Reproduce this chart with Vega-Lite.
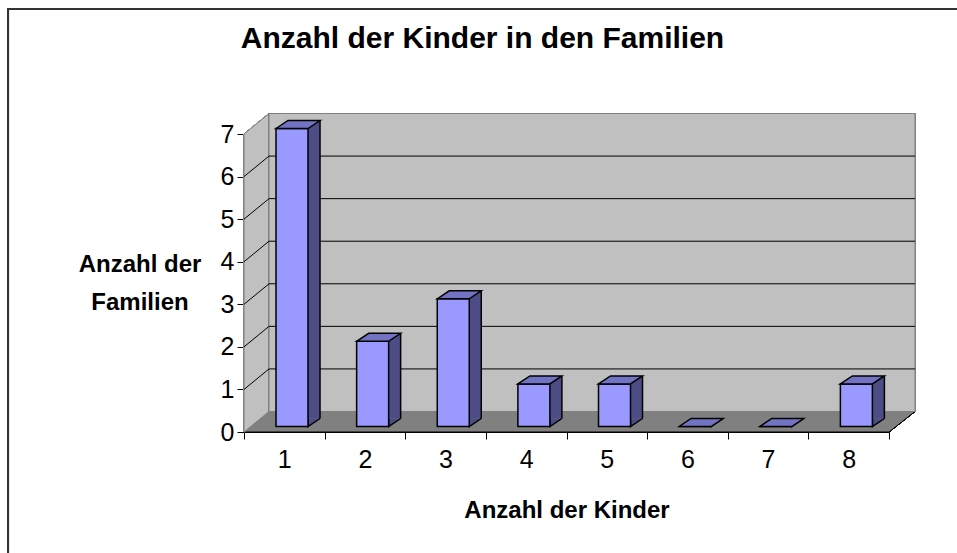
{
  "$schema": "https://vega.github.io/schema/vega-lite/v6.json",
  "autosize": "none",
  "width": 645,
  "height": 298,
  "padding": {"left": 244, "top": 134, "right": 68, "bottom": 121},
  "background": "white",
  "title": {
    "text": "Anzahl der Kinder in den Familien",
    "font": "Liberation Sans",
    "fontSize": 30,
    "fontWeight": "bold",
    "color": "black",
    "anchor": "middle",
    "dx": -84,
    "offset": -49.3
  },
  "config": {
    "view": {"stroke": null},
    "axis": {
      "labelFont": "Liberation Sans",
      "labelFontSize": 25,
      "labelColor": "black",
      "titleFont": "Liberation Sans",
      "titleFontSize": 24,
      "titleFontWeight": "bold",
      "titleColor": "black",
      "domainColor": "black",
      "tickColor": "black",
      "tickSize": 7,
      "domainWidth": 1,
      "tickWidth": 1,
      "grid": false
    }
  },
  "datasets": {
    "kinder": [
      {"kinder": "1", "familien": 7},
      {"kinder": "2", "familien": 2},
      {"kinder": "3", "familien": 3},
      {"kinder": "4", "familien": 1},
      {"kinder": "5", "familien": 1},
      {"kinder": "6", "familien": 0},
      {"kinder": "7", "familien": 0},
      {"kinder": "8", "familien": 1}
    ],
    "gitter": [
      {"v": 1}, {"v": 2}, {"v": 3}, {"v": 4}, {"v": 5}, {"v": 6}
    ]
  },
  "data": {"name": "kinder"},
  "layer": [
    {
      "mark": {"type": "point", "shape": "M-276.3,600L-276.3,-125L800,-125", "size": 4, "filled": false, "opacity": 1, "stroke": "#333333", "strokeWidth": 2},
      "encoding": {
        "x": {"datum": "1", "type": "ordinal"},
        "y": {"datum": 7, "type": "quantitative"}
      }
    },
    {
      "mark": {"type": "point", "shape": "M25,-20.5L0,0L645,0L671,-20.5", "size": 4, "filled": true, "opacity": 1, "fill": "#808080", "stroke": "black", "strokeWidth": 1, "xOffset": -40.3},
      "encoding": {
        "x": {"datum": "1", "type": "ordinal"},
        "y": {"datum": 0, "type": "quantitative"}
      }
    },
    {
      "mark": {"type": "point", "shape": "M0,0L0,-298L25,-318.5L25,-20.5Z", "size": 4, "filled": true, "opacity": 1, "fill": "#c0c0c0", "stroke": "#808080", "strokeWidth": 1, "xOffset": -40.3},
      "encoding": {
        "x": {"datum": "1", "type": "ordinal"},
        "y": {"datum": 0, "type": "quantitative"}
      }
    },
    {
      "mark": {"type": "point", "shape": "M25,-20.5L671,-20.5L671,-318.5L25,-318.5Z", "size": 4, "filled": true, "opacity": 1, "fill": "#c0c0c0", "stroke": "#808080", "strokeWidth": 1, "xOffset": -40.3},
      "encoding": {
        "x": {"datum": "1", "type": "ordinal"},
        "y": {"datum": 0, "type": "quantitative"}
      }
    },
    {
      "data": {"name": "gitter"},
      "mark": {"type": "point", "shape": "M0,0L25,-20.5L671,-20.5", "size": 4, "filled": false, "opacity": 1, "stroke": "black", "strokeWidth": 1, "xOffset": -40.3},
      "encoding": {
        "x": {"datum": "1", "type": "ordinal"},
        "y": {"field": "v", "type": "quantitative"}
      }
    },
    {
      "mark": {"type": "bar", "width": 12, "xOffset": 29.7, "yOffset": -13.5, "y2Offset": -13.5, "fill": "#4d4d85"},
      "encoding": {
        "x": {"field": "kinder", "type": "ordinal"},
        "y": {"field": "familien", "type": "quantitative"}
      }
    },
    {
      "mark": {"type": "point", "shape": "M23.7,-13.5L23.7,-5.5L35.7,-13.5", "size": 4, "filled": true, "opacity": 1, "fill": "#4d4d85", "stroke": "black", "strokeWidth": 1.5},
      "encoding": {
        "x": {"field": "kinder", "type": "ordinal"},
        "y": {"datum": 0, "type": "quantitative"}
      }
    },
    {
      "mark": {"type": "rule", "xOffset": 35.7, "yOffset": -13.5, "y2Offset": -13.5, "stroke": "black", "strokeWidth": 1.5},
      "encoding": {
        "x": {"field": "kinder", "type": "ordinal"},
        "y": {"field": "familien", "type": "quantitative"},
        "y2": {"datum": 0}
      }
    },
    {
      "mark": {"type": "bar", "width": 32, "xOffset": 7.7, "yOffset": -5.5, "y2Offset": -5.5, "fill": "#9999ff", "stroke": "black", "strokeWidth": 1.5},
      "encoding": {
        "x": {
          "field": "kinder",
          "type": "ordinal",
          "title": "Anzahl der Kinder",
          "scale": {"domain": ["1", "2", "3", "4", "5", "6", "7", "8"], "paddingInner": 0, "paddingOuter": 0},
          "axis": {
            "title": "Anzahl der Kinder",
            "labelAngle": 0,
            "labelAlign": "center",
            "tickBand": "extent",
            "labelPadding": 20,
            "titleY": 85,
            "titleBaseline": "alphabetic"
          }
        },
        "y": {
          "field": "familien",
          "type": "quantitative",
          "title": ["Anzahl der", "Familien"],
          "scale": {"domain": [0, 7], "nice": false},
          "axis": {
            "title": ["Anzahl der", "Familien"],
            "values": [0, 1, 2, 3, 4, 5, 6, 7],
            "labelPadding": 3,
            "titleAngle": 0,
            "titleAlign": "center",
            "titleBaseline": "alphabetic",
            "titleX": -104.5,
            "titleY": 137,
            "titleLineHeight": 38
          }
        }
      }
    },
    {
      "mark": {"type": "point", "shape": "M-8.3,0L3.7,-8L35.7,-8L23.7,0Z", "size": 4, "filled": true, "opacity": 1, "fill": "#7373c4", "stroke": "black", "strokeWidth": 1.5, "yOffset": -5.5},
      "encoding": {
        "x": {"field": "kinder", "type": "ordinal"},
        "y": {"field": "familien", "type": "quantitative"}
      }
    }
  ]
}
